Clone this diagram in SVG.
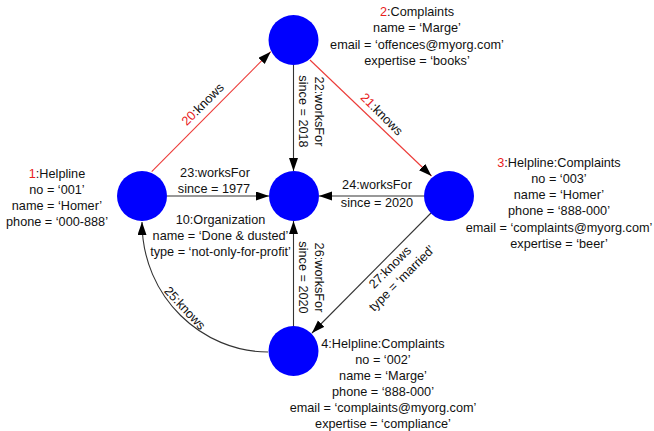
<svg xmlns="http://www.w3.org/2000/svg" width="654" height="431" viewBox="0 0 654 431">
<style>
  text { font-family: "Liberation Sans", Arial, sans-serif; font-size: 12.7px; fill: #111; }
  .lbl { text-anchor: middle; }
  .red { fill: #e8201c; }
  .node { fill: #0000ff; }
  .edge { fill: none; stroke: #333; stroke-width: 1.1; }
  .redge { fill: none; stroke: #ec3b38; stroke-width: 1.1; }
</style>
<defs>
  <marker id="arr" markerUnits="userSpaceOnUse" markerWidth="14" markerHeight="10" refX="13" refY="4.5" orient="auto">
    <path d="M0,0 L13,4.5 L0,9 z" fill="#000"/>
  </marker>
</defs>

<g id="connectors">
  <line class="redge" x1="151.7" y1="171.7" x2="270.7" y2="51.7" marker-end="url(#arr)"/>
  <line class="redge" x1="310" y1="60" x2="431.5" y2="176" marker-end="url(#arr)"/>
  <line class="edge" x1="293.5" y1="65" x2="293.5" y2="171" marker-end="url(#arr)"/>
  <line class="edge" x1="167" y1="196" x2="269" y2="196" marker-end="url(#arr)"/>
  <line class="edge" x1="424" y1="196" x2="319" y2="196" marker-end="url(#arr)"/>
  <line class="edge" x1="293.5" y1="326" x2="293.5" y2="221" marker-end="url(#arr)"/>
  <line class="edge" x1="431" y1="213" x2="312" y2="333" marker-end="url(#arr)"/>
  <path class="edge" d="M268,352 C203,352 142,298 142,222" marker-end="url(#arr)"/>

  <text class="lbl" transform="translate(205.7,107.2) rotate(-45)"><tspan class="red">20</tspan>:knows</text>
  <text class="lbl" transform="translate(378.8,117.2) rotate(45)"><tspan class="red">21</tspan>:knows</text>
  <text class="lbl" transform="translate(314.5,111.5) rotate(90)">22:worksFor</text>
  <text class="lbl" transform="translate(298.5,111.5) rotate(90)">since = 2018</text>
  <text class="lbl" x="215" y="177">23:worksFor</text>
  <text class="lbl" x="214" y="193">since = 1977</text>
  <text class="lbl" x="377" y="189">24:worksFor</text>
  <text class="lbl" x="377" y="207">since = 2020</text>
  <text class="lbl" transform="translate(181.7,311.1) rotate(47)">25:knows</text>
  <text class="lbl" transform="translate(314.5,277.5) rotate(90)">26:worksFor</text>
  <text class="lbl" transform="translate(298.5,277.5) rotate(90)">since = 2020</text>
  <text class="lbl" transform="translate(393,270.2) rotate(-45)">27:knows</text>
  <text class="lbl" transform="translate(404.7,281.2) rotate(-45)">type = ‘married’</text>
</g>

<g id="node1">
  <circle class="node" cx="142" cy="196" r="25"/>
  <text class="lbl" x="57" y="177.5"><tspan class="red">1</tspan>:Helpline</text>
  <text class="lbl" x="57" y="193.8">no = ‘001’</text>
  <text class="lbl" x="57" y="210.1">name = ‘Homer’</text>
  <text class="lbl" x="57" y="226.4">phone = ‘000-888’</text>
</g>

<g id="node2">
  <circle class="node" cx="293.5" cy="40" r="25"/>
  <text class="lbl" x="417" y="16"><tspan class="red">2</tspan>:Complaints</text>
  <text class="lbl" x="417" y="32.3">name = ‘Marge’</text>
  <text class="lbl" x="417" y="48.6">email = ‘offences@myorg.com’</text>
  <text class="lbl" x="417" y="64.9">expertise = ‘books’</text>
</g>

<g id="node3">
  <circle class="node" cx="449" cy="196" r="25"/>
  <text class="lbl" x="559" y="166.5"><tspan class="red">3</tspan>:Helpline:Complaints</text>
  <text class="lbl" x="559" y="182.8">no = ‘003’</text>
  <text class="lbl" x="559" y="199.1">name = ‘Homer’</text>
  <text class="lbl" x="559" y="215.4">phone = ‘888-000’</text>
  <text class="lbl" x="559" y="231.7">email = ‘complaints@myorg.com’</text>
  <text class="lbl" x="559" y="248">expertise = ‘beer’</text>
</g>

<g id="node10">
  <circle class="node" cx="294" cy="196" r="25"/>
  <text class="lbl" x="220.5" y="224">10:Organization</text>
  <text class="lbl" x="220.5" y="240">name = ‘Done &amp; dusted’</text>
  <text class="lbl" x="220.5" y="256">type = ‘not-only-for-profit’</text>
</g>

<g id="node4">
  <circle class="node" cx="293.5" cy="351" r="25"/>
  <text class="lbl" x="383" y="348">4:Helpline:Complaints</text>
  <text class="lbl" x="383" y="364">no = ‘002’</text>
  <text class="lbl" x="383" y="380">name = ‘Marge’</text>
  <text class="lbl" x="383" y="396">phone = ‘888-000’</text>
  <text class="lbl" x="383" y="412">email = ‘complaints@myorg.com’</text>
  <text class="lbl" x="383" y="428">expertise = ‘compliance’</text>
</g>
</svg>
